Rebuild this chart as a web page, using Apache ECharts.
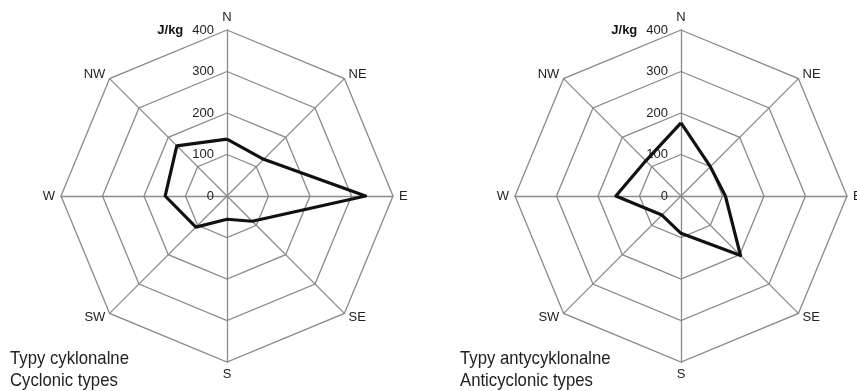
<!DOCTYPE html>
<html>
<head>
<meta charset="utf-8">
<script src="https://cdn.jsdelivr.net/npm/echarts@6/dist/echarts.min.js"></script>
<style>
  html, body { margin: 0; padding: 0; background: #fff; }
  #chart { width: 857px; height: 391px; }
</style>
</head>
<body>
<div id="chart"></div>
<script>
// Wind directions in compass (clockwise) order
const directions = ['N', 'NE', 'E', 'SE', 'S', 'SW', 'W', 'NW'];
// Mean energy (J/kg) per advection direction
const cyclonicValues = [137, 125, 334, 86, 56, 106, 149, 171];
const anticyclonicValues = [176, 100, 107, 203, 90, 65, 157, 120];
const tickValues = [0, 100, 200, 300, 400];
const unitLabel = 'J/kg';
const captionsCyclonic = ['Typy cyklonalne', 'Cyclonic types'];
const captionsAnticyclonic = ['Typy antycyklonalne', 'Anticyclonic types'];

const FONT = '"Liberation Sans", Arial, sans-serif';
const GRID = '#8a8a8a';

// ECharts lays radar indicators out counter-clockwise, so walk the compass backwards
const order = [0, 7, 6, 5, 4, 3, 2, 1];
const maxVal = tickValues[tickValues.length - 1];
const indicators = order.map((i, k) => {
  const ind = { name: directions[i], min: tickValues[0], max: maxVal };
  if (k === 0) {
    // scale values only along the north spoke, with the unit before the top value
    ind.axisLabel = {
      show: true,
      margin: 13,
      color: '#222',
      fontSize: 13,
      fontFamily: FONT,
      formatter: v => (v === maxVal ? '{u|' + unitLabel + '}' + v : String(v)),
      rich: {
        u: { fontWeight: 'bold', fontSize: 13, fontFamily: FONT, color: '#111', padding: [0, 9, 0, 0] }
      }
    };
  }
  return ind;
});
const reorder = arr => order.map(i => arr[i]);

function radarCfg(cx) {
  return {
    center: [cx, 196],
    radius: 166,
    startAngle: 90,
    shape: 'polygon',
    splitNumber: tickValues.length - 1,
    indicator: indicators,
    axisName: { color: '#222', fontSize: 13, fontFamily: FONT },
    nameGap: 6,
    axisLine: { lineStyle: { color: GRID, width: 1.3 } },
    splitLine: { lineStyle: { color: GRID, width: 1.3 } },
    splitArea: { show: false },
    axisTick: { show: false },
    axisLabel: { show: false }
  };
}

function lineSeries(radarIndex, values) {
  return {
    type: 'radar',
    radarIndex: radarIndex,
    symbol: 'none',
    silent: true,
    lineStyle: { color: '#111', width: 3.2 },
    data: [{ value: reorder(values) }]
  };
}

// Two-line caption in a condensed face under each rose
function caption(x, lines) {
  return {
    type: 'text',
    x: x,
    y: 348,
    scaleX: 0.88,
    style: {
      text: lines.join('\n'),
      font: '19px ' + FONT,
      lineHeight: 22,
      verticalAlign: 'top',
      fill: '#222'
    }
  };
}

const chart = echarts.init(document.getElementById('chart'));
chart.setOption({
  animation: false,
  backgroundColor: '#fff',
  radar: [radarCfg(227), radarCfg(681)],
  series: [lineSeries(0, cyclonicValues), lineSeries(1, anticyclonicValues)],
  graphic: [caption(10, captionsCyclonic), caption(460, captionsAnticyclonic)]
});
</script>
</body>
</html>
